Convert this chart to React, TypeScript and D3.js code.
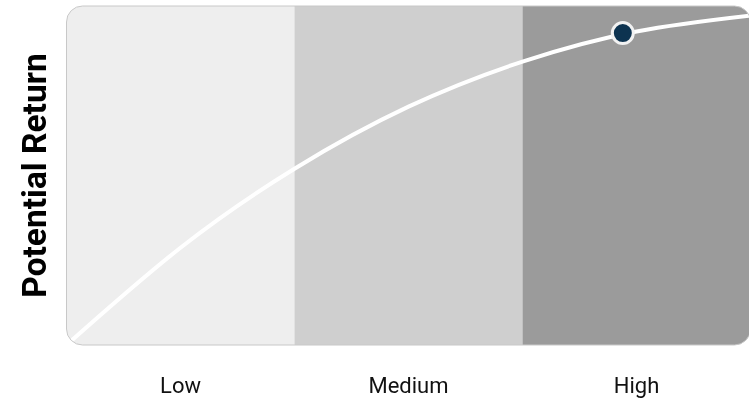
import React from "react";
import * as d3 from "d3";

// Risk bands along the horizontal axis
const bands = ["Low", "Medium", "High"];
const bandColors = ["#eeeeee", "#cfcfcf", "#9b9b9b"];

// Risk/return curve: risk position (band units) vs potential return (0–100)
const riskValues = [0, 0.5, 1, 1.5, 2, 2.5, 3];
const returnValues = [0, 28.7, 52, 70.3, 83.6, 92.5, 97.2];

// Highlighted point on the curve
const markerRisk = 2.44;
const markerReturn = 92;

const W = 749;
const H = 398;
const plot = { left: 66.5, right: 750.5, top: 6, bottom: 345 };

export default function App() {
  const x = d3.scaleLinear().domain([0, bands.length]).range([plot.left, plot.right]);
  const y = d3.scaleLinear().domain([0, 100]).range([plot.bottom, plot.top]);

  const line = d3
    .line<number>()
    .x((_, i) => x(riskValues[i]))
    .y((d) => y(d))
    .curve(d3.curveNatural);

  const pathD = line(returnValues) ?? "";
  const radius = 16;

  return (
    <svg
      width={W}
      height={H}
      style={{ position: "fixed", left: 0, top: 0, display: "block" }}
      fontFamily="Roboto, 'Noto Sans', sans-serif"
    >
      <defs>
        <clipPath id="plotClip">
          <rect
            x={plot.left}
            y={plot.top}
            width={plot.right - plot.left}
            height={plot.bottom - plot.top}
            rx={radius}
            ry={radius}
          />
        </clipPath>
      </defs>

      <g clipPath="url(#plotClip)">
        {bands.map((b, i) => (
          <rect
            key={b}
            x={x(i)}
            y={plot.top}
            width={x(i + 1) - x(i)}
            height={plot.bottom - plot.top}
            fill={bandColors[i]}
          />
        ))}
        <path d={pathD} fill="none" stroke="#ffffff" strokeWidth={4} strokeLinecap="round" />
      </g>

      <rect
        x={plot.left}
        y={plot.top}
        width={plot.right - plot.left}
        height={plot.bottom - plot.top}
        rx={radius}
        ry={radius}
        fill="none"
        stroke="#c8c8c8"
        strokeWidth={1}
      />

      <circle
        cx={x(markerRisk)}
        cy={y(markerReturn)}
        r={10.5}
        fill="#0d3350"
        stroke="#f2f2f2"
        strokeWidth={3}
      />

      {bands.map((b, i) => (
        <text
          key={b}
          x={x(i + 0.5)}
          y={393}
          textAnchor="middle"
          fontSize={22}
          fill="#111111"
        >
          {b}
        </text>
      ))}

      <text
        transform={`translate(46, ${(plot.top + plot.bottom) / 2}) rotate(-90)`}
        textAnchor="middle"
        fontSize={33.5}
        fontWeight="bold"
        fill="#000000"
      >
        Potential Return
      </text>
    </svg>
  );
}
